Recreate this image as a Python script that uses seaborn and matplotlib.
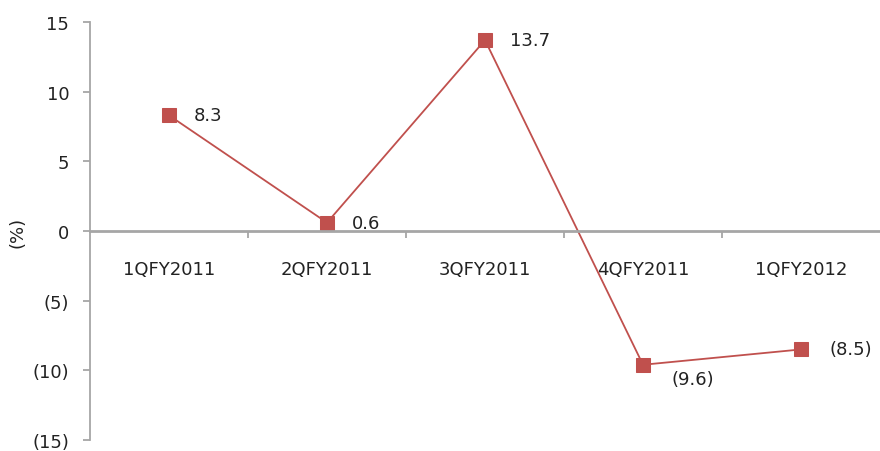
import matplotlib
matplotlib.use("Agg")
import matplotlib.pyplot as plt
import seaborn as sns
import pandas as pd
import numpy as np

categories = ["1QFY2011", "2QFY2011", "3QFY2011", "4QFY2011", "1QFY2012"]
values = [8.3, 0.6, 13.7, -9.6, -8.5]
labels = ["8.3", "0.6", "13.7", "(9.6)", "(8.5)"]
yticks = [-15, -10, -5, 0, 5, 10, 15]
ytick_labels = ["(15)", "(10)", "(5)", "0", "5", "10", "15"]

sns.set_style("white")
plt.rcParams['font.family'] = ['DejaVu Sans']

df = pd.DataFrame({"x": np.arange(len(categories)), "y": values})

fig = plt.figure(figsize=(8.8, 4.52), dpi=100)
ax = fig.add_axes([90/880, 11/452, 790/880, 418/452])
color = "#C0504D"
sns.lineplot(data=df, x="x", y="y", ax=ax, color=color, lw=1.3,
             marker="s", markersize=10, markeredgecolor=color, markerfacecolor=color)

ax.set_xlim(-0.5, len(categories) - 0.5)
ax.set_ylim(-15, 15)
ax.set_yticks(yticks)
ax.set_yticklabels(ytick_labels, fontsize=13, color="#222222")

ax.spines['top'].set_visible(False)
ax.spines['right'].set_visible(False)
ax.spines['left'].set_color("#A6A6A6")
ax.spines['left'].set_linewidth(1.3)
ax.spines['bottom'].set_position(('data', 0))
ax.spines['bottom'].set_color("#A6A6A6")
ax.spines['bottom'].set_linewidth(2)

ax.set_xticks(np.arange(len(categories)))
ax.set_xticklabels(categories, fontsize=13, color="#222222")
ax.set_xticks(np.arange(len(categories) - 1) + 0.5, minor=True)
ax.tick_params(axis='x', which='major', length=0, pad=21, bottom=True)
ax.tick_params(axis='x', which='minor', length=5, direction='out', color="#A6A6A6", width=1.3, bottom=True)
ax.tick_params(axis='y', which='major', length=5, direction='out', color="#A6A6A6", width=1.3, left=True, pad=10)

ax.set_xlabel("")
ax.set_ylabel("(%)", fontsize=13, color="#222222", labelpad=4)

offsets = [(25, 0), (25, 0), (25, 0), (28, -14), (28, 0)]
for i, (v, lab) in enumerate(zip(values, labels)):
    dx, dy = offsets[i]
    ax.annotate(lab, (i, v), xytext=(dx, dy), textcoords="offset pixels",
                fontsize=13, color="#222222", va="center", ha="left")

fig.savefig("out.png", dpi=100)
